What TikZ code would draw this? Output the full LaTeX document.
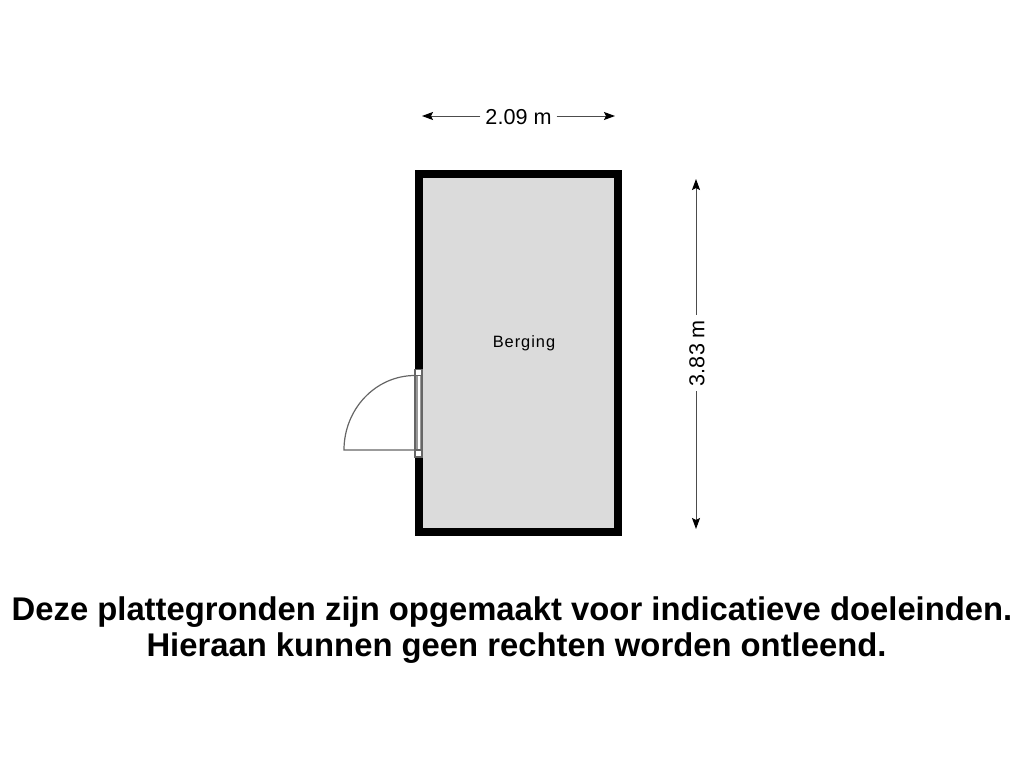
\documentclass[tikz,border=0pt]{standalone}
\usepackage{fontspec}
\setmainfont{Liberation Sans}
\usepackage{tikz}
\usetikzlibrary{arrows.meta}
\tikzset{
	wall/.style={fill=black,draw=none},
	floorarea/.style={fill=black!14,draw=none},
	doorline/.style={draw=black!60,line width=1.2pt},
	dimline/.style={draw=black!70,line width=1pt,-{Stealth[length=11pt,width=8pt,inset=2pt,black]}},
	dimlabel/.style={inner sep=0,outer sep=5pt,font=\fontsize{21.6}{24}\selectfont},
	caption/.style={inner sep=0,font=\fontsize{32.8}{36.5}\selectfont\bfseries}
}
\begin{document}
\begin{tikzpicture}[x=1pt,y=-1pt]
	\useasboundingbox (0,0) rectangle (1024,768);
	% walls and floor
	\fill[wall] (415,170) rectangle (622,536);
	\fill[floorarea] (423,178) rectangle (614,528);
	% door
	\fill[white] (414,369.5) rectangle (423,457);
	\fill[black!40] (415,375.5) rectangle (422,450);
	\fill[white] (417.5,375.5) rectangle (419.5,450);
	\draw[doorline] (415,369.5) rectangle (422,375.5);
	\draw[doorline] (415,450) rectangle (422,457);
	\draw[doorline] (415,375.5) -- (415,450);
	\draw[doorline] (422,375.5) -- (422,450);
	\draw[doorline] (415,375.5) arc (-90:-180:71 and 74.5) -- (415,450);
	% room name
	\node[inner sep=0,font=\fontsize{16.4}{18}\selectfont,text width=80pt,align=center] (berging) at (524,343) {\addfontfeature{LetterSpace=6}Berging};
	% dimensions
	\coordinate (wleft) at (422,116);
	\coordinate (wright) at (615,116);
	\coordinate (htop) at (696,179);
	\coordinate (hbottom) at (696,529);
	\node[dimlabel] (width) at (518.5,117) {2.09 m};
	\node[dimlabel,rotate=90] (height) at (697,353) {3.83 m};
	\draw[dimline] (width.west |- wleft) -- (wleft);
	\draw[dimline] (width.east |- wright) -- (wright);
	\draw[dimline] (height.east -| htop) -- (htop);
	\draw[dimline] (height.west -| hbottom) -- (hbottom);
	% disclaimer
	\node[caption] (disclaimer1) at (512,612) {Deze plattegronden zijn opgemaakt voor indicatieve doeleinden.};
	\node[caption] (disclaimer2) at (516.5,648) {Hieraan kunnen geen rechten worden ontleend.};
\end{tikzpicture}
\end{document}
